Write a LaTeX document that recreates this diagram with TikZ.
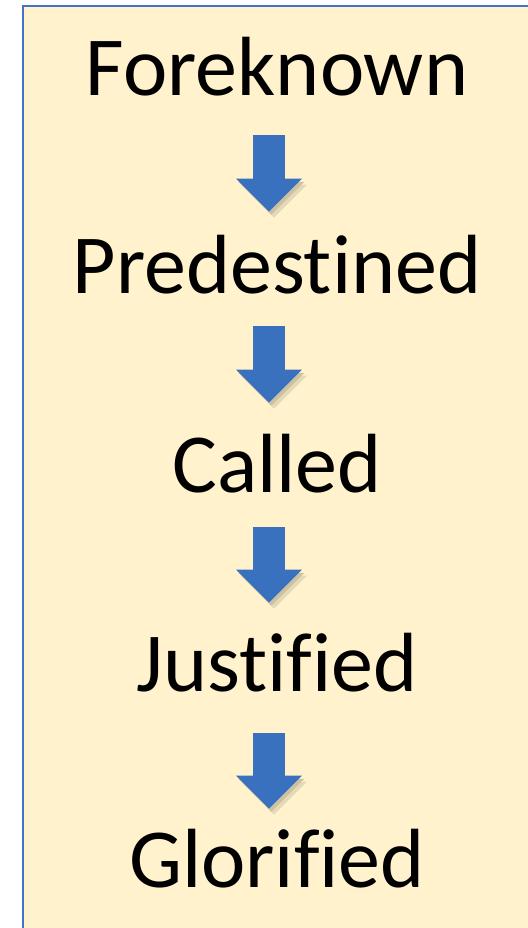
\documentclass[tikz,border=0pt]{standalone}
\usepackage{fontspec}
\setmainfont[Ligatures=NoCommon]{Carlito}
\usepackage{xcolor}
\definecolor{boxcream}{RGB}{255, 242, 204}
\definecolor{boxblue}{RGB}{68, 114, 196}
\definecolor{arrowblue}{RGB}{58, 113, 190}
\colorlet{arrowshade}{boxcream!80!black}
\colorlet{arrowhalo}{boxcream!90!black}
\usetikzlibrary{arrows.meta}

\begin{document}
\begin{tikzpicture}[x=0.5pt, y=-0.5pt,
  stage/.style={anchor=base, inner sep=0pt, text height=27pt, text depth=0pt, font=\fontsize{42}{50}\selectfont},
  flow/.style={line width=16pt, draw=arrowblue, -{Triangle[length=16.5pt, width=33pt, line width=0pt]},
    preaction={draw=arrowhalo, transform canvas={shift={(2.5pt,-3pt)}}},
    preaction={draw=arrowshade, transform canvas={shift={(1.2pt,-1.6pt)}}}}
]
\useasboundingbox (0,0) rectangle (528,928);

% fond
\fill[boxcream] (22.5,5.5) rectangle (560,960);
\draw[boxblue, line width=1pt] (22.5,960) |- (560,5.5);

% etapes
\node[stage] (fore) at (277,95) {Foreknown};
\node[stage] (pred) at (277,293) {Predestined};
\node[stage] (call) at (277,492) {Called};
\node[stage] (just) at (277,691) {Justified};
\node[stage] (glor) at (277,887) {Glorified};

% fleches
\draw[flow, shorten <=20pt, shorten >=13.5pt] ([xshift=-4pt]fore.south) -- ([xshift=-4pt]pred.north);
\draw[flow, shorten <=16.5pt, shorten >=17.5pt] ([xshift=-4pt]pred.south) -- ([xshift=-4pt]call.north);
\draw[flow, shorten <=17.5pt, shorten >=17pt] ([xshift=-4pt]call.south) -- ([xshift=-4pt]just.north);
\draw[flow, shorten <=21pt, shorten >=12pt] ([xshift=-4pt]just.south) -- ([xshift=-4pt]glor.north);
\end{tikzpicture}
\end{document}
